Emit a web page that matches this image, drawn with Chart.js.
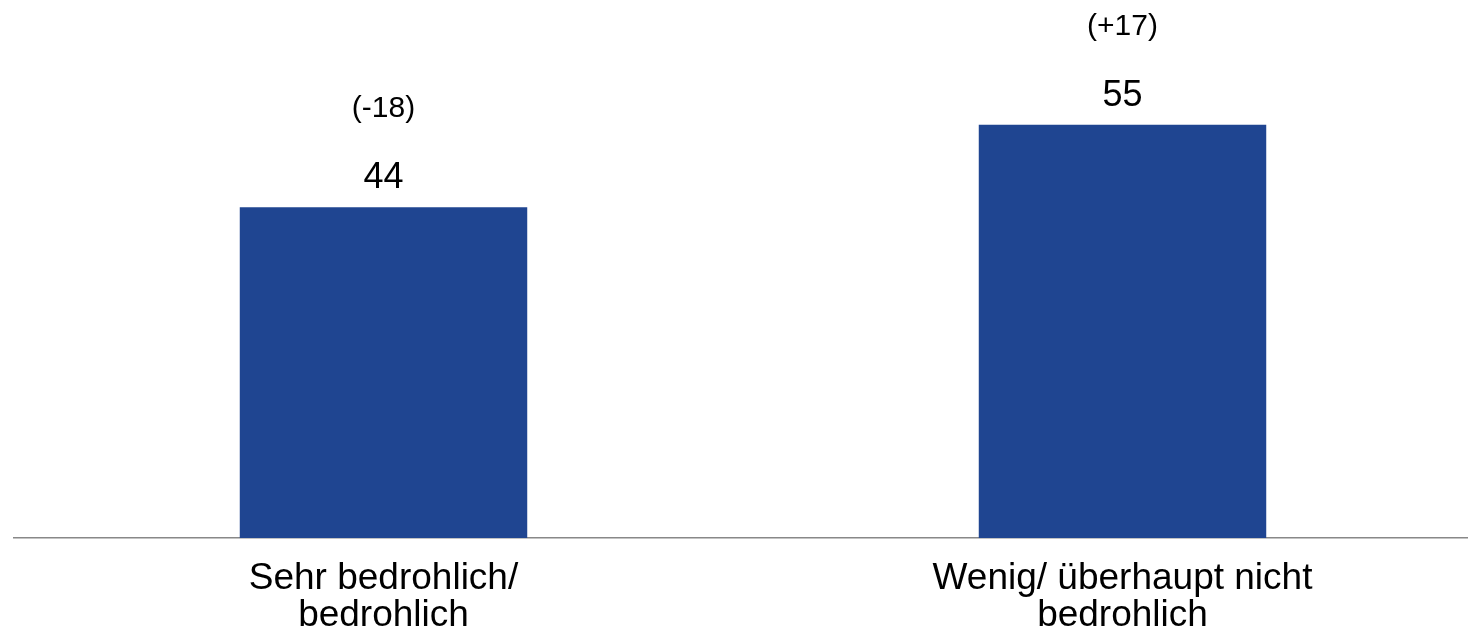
<!DOCTYPE html>
<html lang="de">
<head>
    <meta charset="UTF-8">
    <title>Bedrohung</title>
    <script src="https://cdn.jsdelivr.net/npm/chart.js"></script>
    <style>
        html, body {
            margin: 0;
            padding: 0;
            background: #ffffff;
            overflow: hidden;
        }
        .chart-container {
            width: 1492px;
            height: 638px;
            position: relative;
        }
    </style>
</head>
<body>
    <div class="chart-container">
        <canvas id="chart"></canvas>
    </div>

    <script>
        // Data
        const categories = [
            ["Sehr bedrohlich/", "bedrohlich"],
            ["Wenig/ überhaupt nicht", "bedrohlich"]
        ];
        const values = [44, 55];
        const changes = ["(-18)", "(+17)"];

        const fontFamily = "'Liberation Sans', Arial, sans-serif";

        // Draws the value and the change above each bar
        const barLabels = {
            id: "barLabels",
            afterDatasetsDraw(chart) {
                const ctx = chart.ctx;
                const meta = chart.getDatasetMeta(0);
                ctx.save();
                ctx.fillStyle = "#000000";
                ctx.textAlign = "center";
                ctx.textBaseline = "alphabetic";
                meta.data.forEach((bar, i) => {
                    ctx.font = "36px " + fontFamily;
                    ctx.fillText(String(values[i]), bar.x, bar.y - 19);
                    ctx.font = "30px " + fontFamily;
                    ctx.fillText(changes[i], bar.x, bar.y - 90);
                });
                ctx.restore();
            }
        };

        new Chart(document.getElementById("chart"), {
            type: "bar",
            data: {
                labels: categories,
                datasets: [{
                    data: values,
                    backgroundColor: "#1F4591",
                    borderWidth: 0,
                    categoryPercentage: 1,
                    barPercentage: 0.389
                }]
            },
            options: {
                responsive: true,
                maintainAspectRatio: false,
                animation: false,
                layout: {
                    padding: { top: 12, left: 14, right: 0, bottom: 0 }
                },
                scales: {
                    x: {
                        grid: { display: false, drawTicks: false },
                        border: { display: true, color: "#888888", width: 1.5 },
                        ticks: {
                            color: "#000000",
                            padding: 22,
                            font: { family: fontFamily, size: 37, lineHeight: 1.0 }
                        },
                        afterFit(scale) {
                            scale.height = 100;
                        }
                    },
                    y: {
                        display: false,
                        min: 0,
                        max: 70
                    }
                },
                plugins: {
                    legend: { display: false },
                    tooltip: { enabled: false }
                }
            },
            plugins: [barLabels]
        });
    </script>
</body>
</html>
